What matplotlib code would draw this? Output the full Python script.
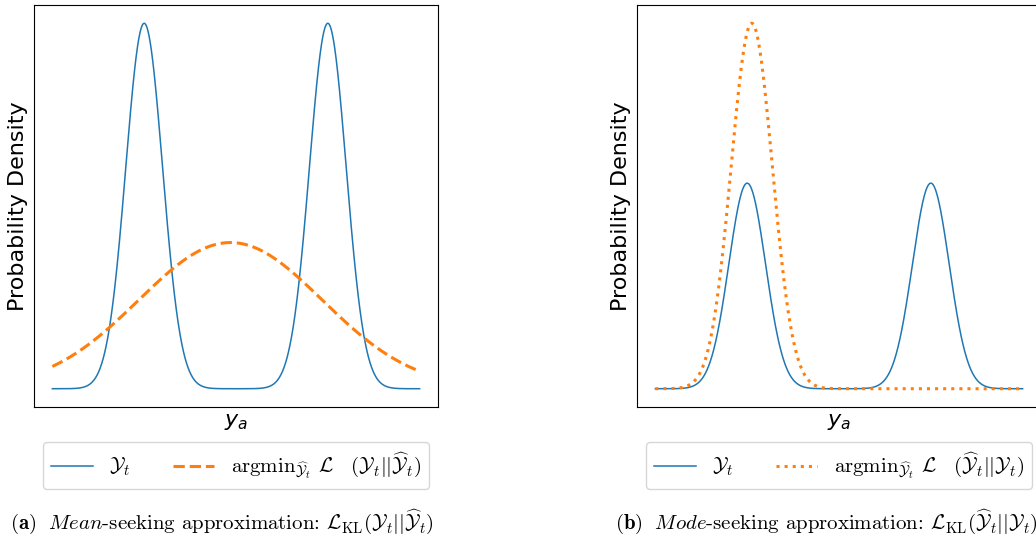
import numpy as np
import matplotlib
matplotlib.use("Agg")
import matplotlib.pyplot as plt

plt.rcParams['mathtext.fontset'] = 'cm'

# ---- data (parameters) ----
x_range = [-4.0, 4.0]
n_points = 1000
target_means = [-2.0, 2.0]
target_sigmas = [0.4, 0.4]
target_weights = [0.5, 0.5]
mean_seeking_mu = -0.12
mean_seeking_sigma = 2.0
mode_seeking_mu = -1.9
mode_seeking_sigma = 0.45

label_target = r"$\mathcal{Y}_t$"
label_mean = r"$\mathrm{argmin}_{\widehat{\mathcal{Y}}_t}\ \mathcal{L}\quad(\mathcal{Y}_t||\widehat{\mathcal{Y}}_t)$"
label_mode = r"$\mathrm{argmin}_{\widehat{\mathcal{Y}}_t}\ \mathcal{L}\quad(\widehat{\mathcal{Y}}_t||\mathcal{Y}_t)$"
caption_a = r"$\mathbf{(a)}\ \ \mathit{Mean}\text{-seeking approximation: }\mathcal{L}_{\mathrm{KL}}(\mathcal{Y}_t||\widehat{\mathcal{Y}}_t)$"
caption_b = r"$\mathbf{(b)}\ \ \mathit{Mode}\text{-seeking approximation: }\mathcal{L}_{\mathrm{KL}}(\widehat{\mathcal{Y}}_t||\mathcal{Y}_t)$"


def gauss(x, mu, s):
    return np.exp(-0.5 * ((x - mu) / s) ** 2) / (s * np.sqrt(2 * np.pi))


x = np.linspace(x_range[0], x_range[1], n_points)
target = sum(w * gauss(x, m, s) for w, m, s in zip(target_weights, target_means, target_sigmas))
mean_fit = gauss(x, mean_seeking_mu, mean_seeking_sigma)
mode_fit = gauss(x, mode_seeking_mu, mode_seeking_sigma)

W, H = 1036, 537
fig = plt.figure(figsize=(W / 100, H / 100), dpi=100)

ax_w = 404 / W
ax_h = 402 / H
ax_b = 1 - 407 / H
ax1 = fig.add_axes([34 / W, ax_b, ax_w, ax_h])
ax2 = fig.add_axes([637 / W, ax_b, ax_w, ax_h])

blue = '#1f77b4'
orange = '#ff7f0e'

ax1.plot(x, target, color=blue, lw=1.1, label=label_target)
ax1.plot(x, mean_fit, color=orange, lw=2.2, ls='--', label=label_mean)
ax2.plot(x, target, color=blue, lw=1.1, label=label_target)
ax2.plot(x, mode_fit, color=orange, lw=2.2, ls=':', label=label_mode)

for ax in (ax1, ax2):
    ax.set_xticks([])
    ax.set_yticks([])
    ax.set_ylabel("Probability Density", fontsize=16)
    ax.yaxis.set_label_coords(-0.014, 0.5)
    ax.set_xlabel(r"$y_a$", fontsize=16, math_fontfamily='dejavusans')
    ax.xaxis.set_label_coords(0.5, -0.012)
    ax.legend(loc='upper center', bbox_to_anchor=(0.5, -0.087), ncol=2,
              fontsize=15, borderaxespad=0)

fig.text(222 / W, 1 - 522 / H, caption_a, ha='center', va='center', fontsize=15)
fig.text(826 / W, 1 - 522 / H, caption_b, ha='center', va='center', fontsize=15)

fig.savefig("out.png", dpi=100)
